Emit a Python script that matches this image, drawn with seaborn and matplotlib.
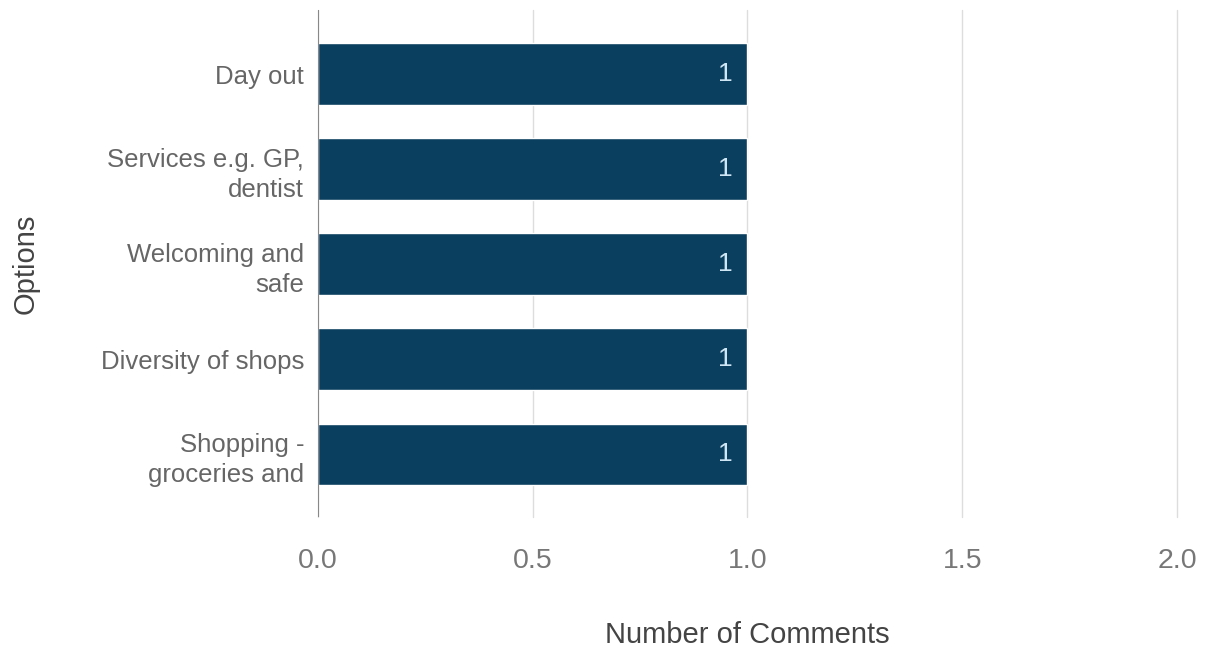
import matplotlib
matplotlib.use("Agg")
import matplotlib.pyplot as plt
import seaborn as sns
import pandas as pd

# chart data
options = ["Day out", "Services e.g. GP,\ndentist", "Welcoming and\nsafe",
           "Diversity of shops", "Shopping -\ngroceries and"]
comments = [1, 1, 1, 1, 1]

df = pd.DataFrame({"Options": options, "Number of Comments": comments})

sns.set_style("white")
plt.rcParams["font.family"] = ["Liberation Sans", "DejaVu Sans"]

fig = plt.figure(figsize=(12.09, 6.48), dpi=100)
ax = fig.add_axes([0.263, 0.202, 0.7105, 0.783])

sns.barplot(data=df, y="Options", x="Number of Comments", color="#0a3f5f",
            width=0.65, saturation=1, ax=ax, zorder=3)

ax.set_xlim(0, 2.0)
ax.set_ylim(4.66, -0.68)
ax.set_xticks([0, 0.5, 1.0, 1.5, 2.0])
ax.set_xticklabels(["0.0", "0.5", "1.0", "1.5", "2.0"])
ax.grid(axis="x", color="#dddddd", linewidth=1, zorder=0)
for gl in ax.get_xgridlines():
    gl.set_clip_on(False)
ax.axvline(0, color="#888888", linewidth=1.5, zorder=4)
for s in ax.spines.values():
    s.set_visible(False)

ax.tick_params(axis="x", labelsize=20.5, colors="#777777", length=0, pad=22)
ax.tick_params(axis="y", labelsize=18.5, colors="#666666", length=0, pad=10)
for lab in ax.get_yticklabels():
    lab.set_horizontalalignment("right")
    lab.set_multialignment("right")
    lab.set_linespacing(1.3)

ax.set_xlabel("Number of Comments", fontsize=21, color="#444444", labelpad=34)
ax.set_ylabel("Options", fontsize=21, color="#444444", labelpad=44)

for cont in ax.containers:
    ax.bar_label(cont, labels=[str(v) for v in comments], padding=-21,
                 color="#cfe6f5", fontsize=19, zorder=5)

fig.savefig("out.png", dpi=100)
